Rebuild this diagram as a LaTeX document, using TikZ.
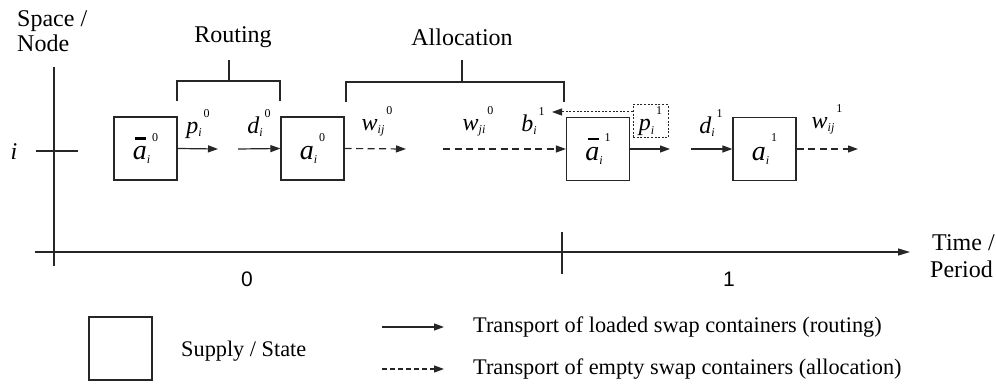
\documentclass[tikz,border=0pt]{standalone}
\usepackage{fontspec}
\setmainfont{Liberation Serif}
\newfontfamily\axisfont{Liberation Sans}
\usetikzlibrary{arrows.meta}
\newcommand{\vlab}[3]{\textit{#1}\raisebox{-0.3ex}{\fontsize{12}{12}\selectfont\textit{#2}}\raisebox{1.45ex}{\fontsize{12}{12}\selectfont\,#3}}
\newcommand{\barA}{\makebox[0pt][l]{\hspace{0.08em}\rule[0.72em]{0.4em}{0.09em}}\textit{a}}
\tikzset{
  ln/.style={line width=1.2pt, draw=black!85},
  statebox/.style={ln, minimum width=63pt, minimum height=63pt, inner sep=0pt},
  lbl/.style={font=\fontsize{24}{28}\selectfont, inner sep=0pt},
  boxlbl/.style={font=\fontsize{28}{32}\selectfont},
  leglbl/.style={font=\fontsize{22.3}{26}\selectfont, inner sep=0pt},
  tip/.style={-{Triangle[length=10pt,width=7pt]}},
  solidarr/.style={ln, tip},
  dasharr/.style={ln, tip, dash pattern=on 7pt off 4.5pt},
  dotarr/.style={line width=1pt, draw=black!85, tip, dash pattern=on 2pt off 1.6pt},
}
\begin{document}
\begin{tikzpicture}[x=1pt,y=-1pt]
\useasboundingbox (0,0) rectangle (996,385);
% axes
\coordinate (vtop) at (54,67);
\coordinate (vbot) at (54,266);
\draw[ln] (vtop) -- (vbot);
\coordinate (hstart) at (35,252);
\coordinate (hend) at (910,252);
\draw[ln,-{Triangle[length=12pt,width=7pt]}] (hstart) -- (hend);
\coordinate (itl) at (36,151);
\coordinate (itr) at (78,151);
\draw[ln] (itl) -- (itr);
\coordinate (t1a) at (562,232);
\coordinate (t1b) at (562,274);
\draw[ln] (t1a) -- (t1b);
\node[lbl, anchor=base west] (spacelbl) at (17,27) {Space /};
\node[lbl, anchor=base west] (nodelbl) at (17,52) {Node};
\node[lbl] (ilbl) at (14,152) {\textit{i}};
\node[lbl, anchor=base west] (timelbl) at (932,250) {Time /};
\node[lbl, anchor=base west] (periodlbl) at (930,277) {Period};
\node[lbl, font=\axisfont\fontsize{21}{24}\selectfont] (p0) at (247,279) {0};
\node[lbl, font=\axisfont\fontsize{21}{24}\selectfont] (p1) at (729,279) {1};
% boxes
\node[statebox, boxlbl] (b1) at (145.5,148.5) {\vlab{\barA}{i}{0}};
\node[statebox, boxlbl] (b2) at (312.5,148.5) {\vlab{a}{i}{0}};
\node[statebox, boxlbl] (b3) at (598,149) {\vlab{\barA}{i}{1}};
\node[statebox, boxlbl] (b4) at (764.5,149) {\vlab{a}{i}{1}};
% arrows
\coordinate (pe0) at (218,149);
\draw[solidarr] (b1.east) -- (pe0);
\coordinate (ds0) at (238,149);
\draw[solidarr] (ds0) -- (b2.west);
\coordinate (we0) at (406,149);
\draw[dasharr] (b2.east) -- (we0);
\coordinate (ws0) at (443,149);
\draw[dasharr] (ws0) -- (b3.west);
\coordinate (pe1) at (670,149);
\draw[solidarr] (b3.east) -- (pe1);
\coordinate (ds1) at (691,149);
\draw[solidarr] (ds1) -- (b4.west);
\coordinate (we1) at (858,149);
\draw[dasharr] (b4.east) -- (we1);
% dotted p box and arrow
\node[lbl, draw=black!85, line width=1pt, dash pattern=on 2pt off 1.6pt, minimum width=35pt, minimum height=33pt] (pbox) at (650.5,121.5) {\vlab{p}{i}{1}};
\coordinate (bt) at (552,112);
\draw[dotarr] (pbox.west |- bt) -- (bt);
% labels
\node[lbl] (lp0) at (198,124) {\vlab{p}{i}{0}};
\node[lbl] (ld0) at (259,123) {\vlab{d}{i}{0}};
\node[lbl] (lw0) at (377,121) {\vlab{w}{ij}{0}};
\node[lbl] (lw0b) at (478,121) {\vlab{w}{ji}{0}};
\node[lbl] (lb1) at (533,121) {\vlab{b}{i}{1}};
\node[lbl] (ld1) at (711,123) {\vlab{d}{i}{1}};
\node[lbl] (lw1) at (827,119) {\vlab{w}{ij}{1}};
% brackets
\draw[ln] (177,101) -- (177,81) -- (280,81) -- (280,101);
\draw[ln] (229,81) -- (229,60);
\node[lbl] (routing) at (233,37) {Routing};
\draw[ln] (346,102) -- (346,82) -- (564,82) -- (564,102);
\draw[ln] (462,82) -- (462,60);
\node[lbl] (alloc) at (462,37) {Allocation};
% legend
\node[statebox] (legbox) at (120.5,348.5) {};
\node[leglbl, anchor=west] (supply) at (181,351) {Supply / State};
\coordinate (l1a) at (382,327);
\coordinate (l1b) at (444,327);
\draw[solidarr] (l1a) -- (l1b);
\coordinate (l2a) at (382,369);
\coordinate (l2b) at (444,369);
\draw[ln, tip, dash pattern=on 5pt off 3pt] (l2a) -- (l2b);
\node[leglbl, anchor=west] (leg1) at (473,327) {Transport of loaded swap containers (routing)};
\node[leglbl, anchor=west] (leg2) at (473,369) {Transport of empty swap containers (allocation)};
\end{tikzpicture}
\end{document}
